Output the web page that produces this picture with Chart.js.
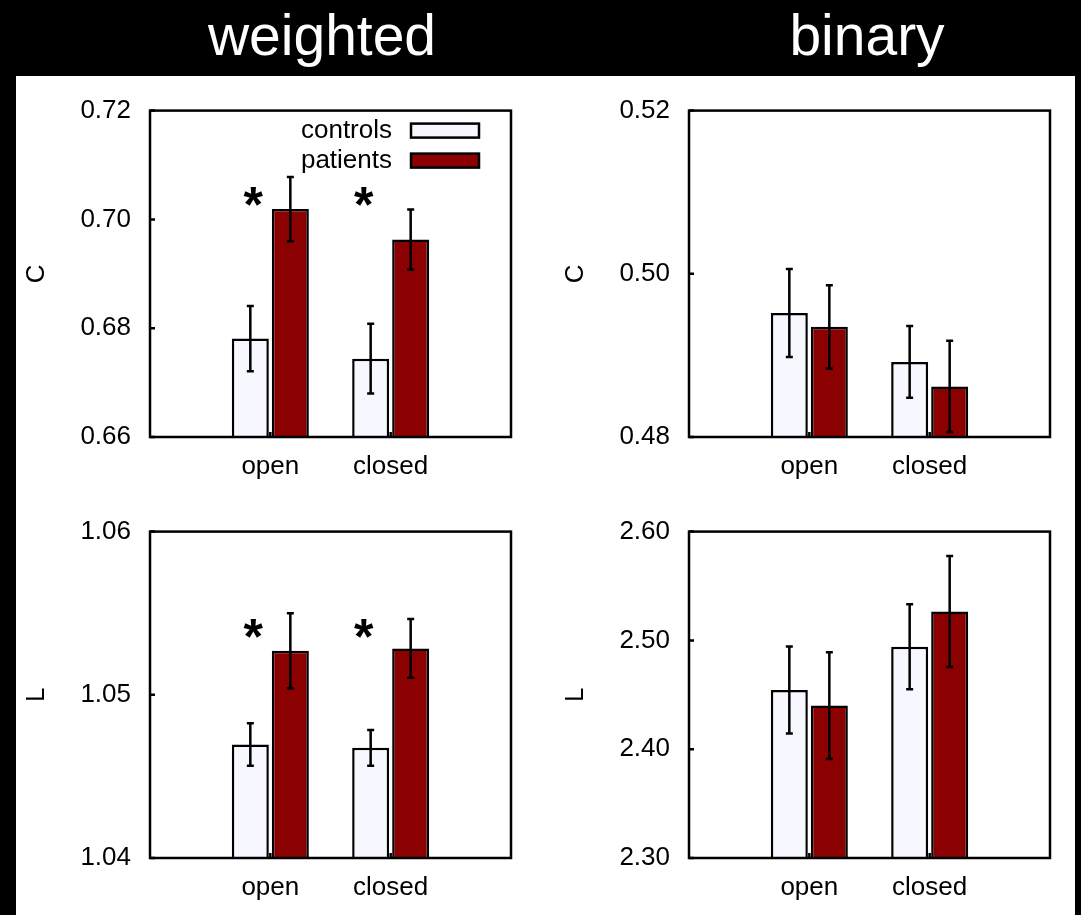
<!DOCTYPE html>
<html>
<head>
<meta charset="utf-8">
<script src="https://cdn.jsdelivr.net/npm/chart.js@4.4.1/dist/chart.umd.min.js"></script>
<style>
  html, body { margin: 0; padding: 0; background: #000; }
  body { width: 1081px; height: 915px; position: relative; overflow: hidden; }
  #sheet { position: absolute; left: 16px; top: 76px; width: 1059px; height: 839px; background: #fff; }
  .head { position: absolute; top: 7px; width: 400px; text-align: center; color: #fff;
          font-family: "Liberation Sans", Arial, sans-serif; font-size: 57px; line-height: 57px; }
  canvas { position: absolute; }
</style>
</head>
<body>
<div id="sheet"></div>
<div class="head" style="left:122px">weighted</div>
<div class="head" style="left:667px">binary</div>
<canvas id="wC" width="524" height="419" style="left:16px;top:76px"></canvas>
<canvas id="bC" width="524" height="419" style="left:555px;top:76px"></canvas>
<canvas id="wL" width="524" height="418" style="left:16px;top:497px"></canvas>
<canvas id="bL" width="524" height="418" style="left:555px;top:497px"></canvas>
<script>
const groups = ['open', 'closed'];
const seriesNames = ['controls', 'patients'];

// weighted C
const wCControls = [0.6781, 0.6744];
const wCControlsErr = [0.0060, 0.0064];
const wCPatients = [0.7019, 0.6963];
const wCPatientsErr = [0.0059, 0.0055];
const wCTicks = [0.66, 0.68, 0.70, 0.72];
const wCStars = [0.7039, 0.7039];

// binary C
const bCControls = [0.4952, 0.4892];
const bCControlsErr = [0.0054, 0.0044];
const bCPatients = [0.4935, 0.4862];
const bCPatientsErr = [0.0051, 0.0056];
const bCTicks = [0.48, 0.50, 0.52];

// weighted L
const wLControls = [1.04695, 1.04675];
const wLControlsErr = [0.0013, 0.0011];
const wLPatients = [1.0527, 1.05284];
const wLPatientsErr = [0.0023, 0.0018];
const wLTicks = [1.04, 1.05, 1.06];
const wLStars = [1.0540, 1.0540];

// binary L
const bLControls = [2.4545, 2.4942];
const bLControlsErr = [0.040, 0.039];
const bLPatients = [2.4401, 2.5266];
const bLPatientsErr = [0.049, 0.051];
const bLTicks = [2.30, 2.40, 2.50, 2.60];

const FONT = '"Liberation Sans", Arial, sans-serif';
const controlsFill = '#f7f8ff';
const patientsFill = '#8b0000';

// empty slots on both sides put the two groups at 1/3 and 2/3 of the width
const pad = arr => [null, ...arr, null];

const errorBars = {
  id: 'errorBars',
  afterDatasetsDraw(chart) {
    const { ctx, scales: { y } } = chart;
    ctx.save();
    ctx.strokeStyle = '#000';
    ctx.lineWidth = 2.5;
    chart.data.datasets.forEach((ds, di) => {
      chart.getDatasetMeta(di).data.forEach((bar, i) => {
        const v = ds.data[i];
        if (v == null) return;
        const e = ds.errors[i];
        const top = y.getPixelForValue(v + e);
        const bot = y.getPixelForValue(v - e);
        ctx.beginPath();
        ctx.moveTo(bar.x, top); ctx.lineTo(bar.x, bot);
        ctx.moveTo(bar.x - 3.5, top); ctx.lineTo(bar.x + 3.5, top);
        ctx.moveTo(bar.x - 3.5, bot); ctx.lineTo(bar.x + 3.5, bot);
        ctx.stroke();
      });
    });
    ctx.restore();
  }
};

const frame = {
  id: 'frame',
  afterDraw(chart) {
    const { ctx, chartArea: a, scales: { x, y } } = chart;
    ctx.save();
    ctx.strokeStyle = '#000';
    ctx.lineWidth = 2.5;
    ctx.beginPath();
    y.ticks.forEach((t, i) => {
      const py = y.getPixelForTick(i);
      ctx.moveTo(a.left, py); ctx.lineTo(a.left + 5, py);
    });
    x.ticks.forEach((t, i) => {
      if (!x.getLabelForValue(t.value)) return;
      const px = x.getPixelForTick(i);
      ctx.moveTo(px, a.bottom); ctx.lineTo(px, a.bottom - 5);
    });
    ctx.stroke();
    ctx.strokeRect(a.left, a.top, a.right - a.left, a.bottom - a.top);
    ctx.restore();
  }
};

function stars(values, shifts) {
  return {
    id: 'stars',
    afterDatasetsDraw(chart) {
      if (!values) return;
      const { ctx, scales: { y } } = chart;
      const bars = chart.getDatasetMeta(0).data;
      ctx.save();
      ctx.fillStyle = '#000';
      ctx.font = 'bold 50px ' + FONT;
      ctx.textAlign = 'center';
      ctx.textBaseline = 'alphabetic';
      values.forEach((v, i) => {
        const bar = bars[i + 1];
        // asterisk sits high in the em box, shift baseline down to centre it on v
        ctx.fillText('*', bar.x + shifts[i], y.getPixelForValue(v) + 24);
      });
      ctx.restore();
    }
  };
}

function boxLegend(show) {
  return {
    id: 'boxLegend',
    afterDraw(chart) {
      if (!show) return;
      const { ctx, chartArea: a } = chart;
      ctx.save();
      ctx.font = '26px ' + FONT;
      ctx.textAlign = 'right';
      ctx.textBaseline = 'middle';
      chart.data.datasets.forEach((ds, i) => {
        const bx = a.right - 32 - 68;
        const by = a.top + 13 + i * 30;
        ctx.fillStyle = ds.backgroundColor;
        ctx.fillRect(bx, by, 68, 14);
        ctx.strokeStyle = '#000';
        ctx.lineWidth = 2.5;
        ctx.strokeRect(bx, by, 68, 14);
        ctx.fillStyle = '#000';
        ctx.fillText(ds.label, bx - 19, by + 7);
      });
      ctx.restore();
    }
  };
}

function makePanel(id, axisTitle, ticks, controls, controlsErr, patients, patientsErr, starValues, showLegend) {
  new Chart(document.getElementById(id), {
    type: 'bar',
    data: {
      labels: pad(groups).map(l => l || ''),
      datasets: [
        { label: seriesNames[0], data: pad(controls), errors: pad(controlsErr),
          backgroundColor: controlsFill, borderColor: '#000', borderWidth: 2.5, borderSkipped: false },
        { label: seriesNames[1], data: pad(patients), errors: pad(patientsErr),
          backgroundColor: patientsFill, borderColor: '#000', borderWidth: 2.5, borderSkipped: false }
      ]
    },
    options: {
      responsive: false,
      animation: false,
      events: [],
      categoryPercentage: 0.665,
      barPercentage: 0.925,
      layout: { padding: { top: 33, right: 29, left: 0, bottom: 0 } },
      plugins: { legend: { display: false }, tooltip: { enabled: false } },
      scales: {
        x: {
          offset: false,
          grid: { display: false, drawTicks: false },
          border: { display: false },
          ticks: { color: '#000', font: { family: FONT, size: 26 }, padding: 14, maxRotation: 0, autoSkip: false },
          afterFit: s => { s.height = s.chart.height - 361; }
        },
        y: {
          min: ticks[0],
          max: ticks[ticks.length - 1],
          grid: { display: false, drawTicks: false },
          border: { display: false },
          afterBuildTicks: s => { s.ticks = ticks.map(v => ({ value: v })); },
          ticks: { color: '#000', font: { family: FONT, size: 26 }, padding: 19, callback: v => v.toFixed(2) },
          title: { display: true, text: axisTitle, color: '#000', font: { family: FONT, size: 26 }, padding: { top: 5, bottom: 0 } },
          afterFit: s => { s.width = 134; }
        }
      }
    },
    plugins: [errorBars, stars(starValues, [3, -7]), frame, boxLegend(showLegend)]
  });
}

makePanel('wC', 'C', wCTicks, wCControls, wCControlsErr, wCPatients, wCPatientsErr, wCStars, true);
makePanel('bC', 'C', bCTicks, bCControls, bCControlsErr, bCPatients, bCPatientsErr, null, false);
makePanel('wL', 'L', wLTicks, wLControls, wLControlsErr, wLPatients, wLPatientsErr, wLStars, false);
makePanel('bL', 'L', bLTicks, bLControls, bLControlsErr, bLPatients, bLPatientsErr, null, false);
</script>
</body>
</html>
